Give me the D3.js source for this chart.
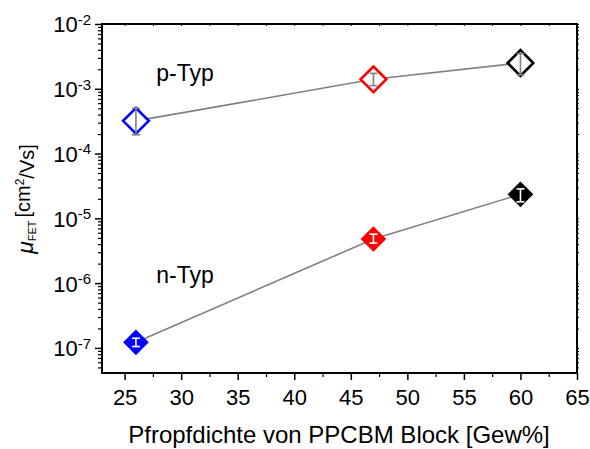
<!DOCTYPE html>
<html>
<head>
<meta charset="utf-8">
<script src="https://cdn.jsdelivr.net/npm/d3@7"></script>
<style>
  body { margin: 0; background: #fff; }
  svg { font-family: Arial, "Liberation Sans", sans-serif; }
</style>
</head>
<body>
<div id="chart"></div>
<script>
const xValues = [26, 47, 60];
const pColors = ["#0000ff", "#ff0000", "#000000"];
const pMobility = [3.2e-4, 1.4e-3, 2.5e-3];
const pErrLow = [1.95e-4, 1.12e-3, 1.65e-3];
const pErrHigh = [5.0e-4, 1.73e-3, 3.5e-3];
const nMobility = [1.22e-7, 4.8e-6, 2.35e-5];
const nErrLow = [1.05e-7, 4.15e-6, 1.8e-5];
const nErrHigh = [1.41e-7, 5.7e-6, 2.85e-5];
const xTicks = [25, 30, 35, 40, 45, 50, 55, 60, 65];
const yExponents = [-7, -6, -5, -4, -3, -2];

const width = 590, height = 449;
const margin = { top: 24, right: 13, bottom: 76, left: 102 };
const innerW = width - margin.left - margin.right;
const innerH = height - margin.top - margin.bottom;

const svg = d3.select("#chart").append("svg")
  .attr("width", width)
  .attr("height", height);

const g = svg.append("g")
  .attr("transform", `translate(${margin.left},${margin.top})`);

const x = d3.scaleLinear().domain([23, 65]).range([0, innerW]);
const y = d3.scaleLog().domain([4.1e-8, 1e-2]).range([innerH, 0]);

// minor ticks for log axis
const yMinor = [];
for (let e = -8; e < -2; e++) {
  for (let m = 2; m <= 9; m++) {
    const v = m * Math.pow(10, e);
    if (v >= 4.1e-8 && v <= 1e-2) yMinor.push(v);
  }
}
const xMinor = d3.range(22.5, 65, 5).filter(v => v > 23);

// left axis
const yAxis = g.append("g")
  .call(d3.axisLeft(y).tickValues(yExponents.map(e => Math.pow(10, e))).tickSize(7).tickFormat(""));
yAxis.select(".domain").remove();
yAxis.selectAll(".tick line").attr("stroke", "#000").attr("stroke-width", 1.5);
g.append("g")
  .call(d3.axisLeft(y).tickValues(yMinor).tickSize(4).tickFormat(""))
  .call(s => s.select(".domain").remove())
  .selectAll(".tick line").attr("stroke", "#000").attr("stroke-width", 1.2);

yAxis.selectAll(".tick").each(function (d) {
  const e = Math.round(Math.log10(d));
  const t = d3.select(this).append("text")
    .attr("x", -11)
    .attr("dy", "0.36em")
    .attr("fill", "#000")
    .attr("text-anchor", "end")
    .style("font-size", "22px");
  t.append("tspan").text("10");
  t.append("tspan").attr("dy", "-0.5em").style("font-size", "15px").text("-" + Math.abs(e));
});

// right axis (tiny ticks)
g.append("g")
  .attr("transform", `translate(${innerW},0)`)
  .call(d3.axisRight(y).tickValues(yExponents.map(e => Math.pow(10, e)).concat(yMinor)).tickSize(2).tickFormat(""))
  .call(s => s.select(".domain").remove())
  .selectAll(".tick line").attr("stroke", "#000").attr("stroke-width", 1);

// bottom axis
const xAxis = g.append("g")
  .attr("transform", `translate(0,${innerH})`)
  .call(d3.axisBottom(x).tickValues(xTicks).tickSize(7).tickPadding(9));
xAxis.select(".domain").remove();
xAxis.selectAll(".tick line").attr("stroke", "#000").attr("stroke-width", 1.5);
xAxis.selectAll("text").attr("fill", "#000").style("font-size", "22px");
g.append("g")
  .attr("transform", `translate(0,${innerH})`)
  .call(d3.axisBottom(x).tickValues(xMinor).tickSize(4).tickFormat(""))
  .call(s => s.select(".domain").remove())
  .selectAll(".tick line").attr("stroke", "#000").attr("stroke-width", 1.2);

// top axis (tiny ticks)
g.append("g")
  .call(d3.axisTop(x).tickValues(xTicks.concat(xMinor)).tickSize(-2).tickFormat(""))
  .call(s => s.select(".domain").remove())
  .selectAll(".tick line").attr("stroke", "#000").attr("stroke-width", 1);

// frame
g.append("rect")
  .attr("width", innerW).attr("height", innerH)
  .attr("fill", "none").attr("stroke", "#000").attr("stroke-width", 2);

// connecting lines
const line = d3.line().x(d => x(d[0])).y(d => y(d[1]));
const pData = xValues.map((v, i) => [v, pMobility[i]]);
const nData = xValues.map((v, i) => [v, nMobility[i]]);
[pData, nData].forEach(data => {
  g.append("path").datum(data)
    .attr("fill", "none").attr("stroke", "#808080").attr("stroke-width", 1.6)
    .attr("d", line);
});

const diamond = d3.symbol().type(d3.symbolDiamond2).size(420);

function errorBar(cx, lo, hi, color) {
  const eb = g.append("g").attr("stroke", color).attr("stroke-width", 1.6);
  eb.append("line").attr("x1", x(cx)).attr("x2", x(cx)).attr("y1", y(lo)).attr("y2", y(hi));
  eb.append("line").attr("x1", x(cx) - 4).attr("x2", x(cx) + 4).attr("y1", y(lo)).attr("y2", y(lo));
  eb.append("line").attr("x1", x(cx) - 4).attr("x2", x(cx) + 4).attr("y1", y(hi)).attr("y2", y(hi));
}

// p-type: open diamonds
xValues.forEach((v, i) => {
  g.append("path")
    .attr("d", diamond)
    .attr("transform", `translate(${x(v)},${y(pMobility[i])})`)
    .attr("fill", "#fff").attr("stroke", pColors[i]).attr("stroke-width", 2.6);
  errorBar(v, pErrLow[i], pErrHigh[i], "#808080");
});

// n-type: filled diamonds
xValues.forEach((v, i) => {
  g.append("path")
    .attr("d", diamond)
    .attr("transform", `translate(${x(v)},${y(nMobility[i])})`)
    .attr("fill", pColors[i]);
  errorBar(v, nErrLow[i], nErrHigh[i], "#fff");
});

// annotations
svg.append("text").attr("x", 185).attr("y", 81).attr("text-anchor", "middle")
  .style("font-size", "23px").text("p-Typ");
svg.append("text").attr("x", 185).attr("y", 283).attr("text-anchor", "middle")
  .style("font-size", "23px").text("n-Typ");

// axis titles
svg.append("text").attr("x", 339).attr("y", 443).attr("text-anchor", "middle")
  .style("font-size", "24px").text("Pfropfdichte von PPCBM Block [Gew%]");

const yt = svg.append("text")
  .attr("transform", "translate(33,199) rotate(-90)")
  .attr("text-anchor", "middle")
  .style("font-size", "20px");
yt.append("tspan").style("font-style", "italic").style("font-size", "23px").text("μ");
yt.append("tspan").attr("dy", "0.3em").style("font-size", "11px").text("FET ");
yt.append("tspan").attr("dy", "-0.3em").text("[cm");
yt.append("tspan").attr("dy", "-0.5em").style("font-size", "12px").text("2");
yt.append("tspan").attr("dy", "0.5em").text("/Vs]");
</script>
</body>
</html>
